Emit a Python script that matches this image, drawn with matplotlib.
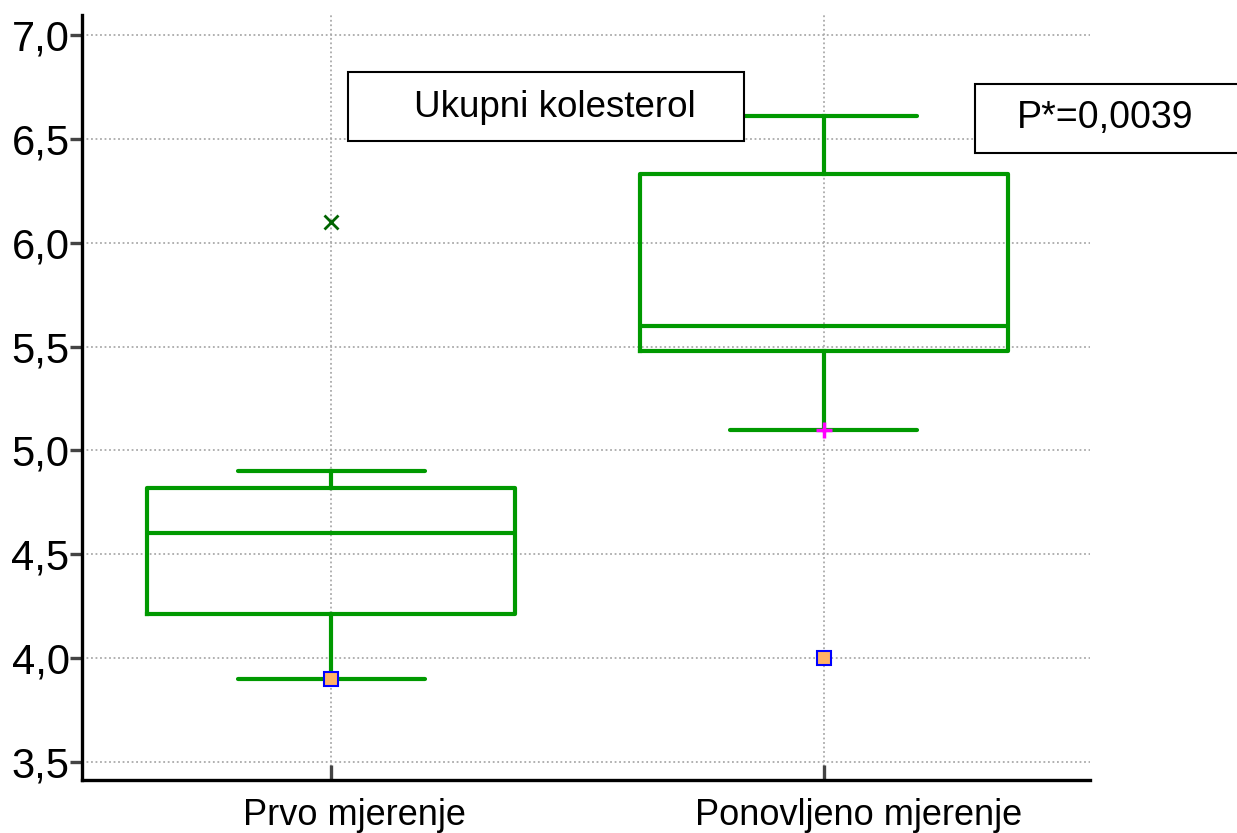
import matplotlib
matplotlib.use("Agg")
import matplotlib.pyplot as plt
from matplotlib.patches import Rectangle
from matplotlib.transforms import ScaledTranslation

plt.rcParams["font.family"] = ["Liberation Sans", "DejaVu Sans"]

categories = ["Prvo mjerenje", "Ponovljeno mjerenje"]
whisker_low = [3.9, 5.1]
q1 = [4.21, 5.48]
median = [4.6, 5.6]
q3 = [4.82, 6.33]
whisker_high = [4.9, 6.61]
outliers_x = [6.1]          # only the first group has a far outlier
min_points = [3.9, 4.0]     # square markers
plus_point = 5.1            # magenta marker, second group

GREEN = "#009900"

fig = plt.figure(figsize=(12.37, 8.33), dpi=100)
ax = fig.add_axes([0.0663, 0.0636, 0.8147, 0.9184])

stats = []
for i, name in enumerate(categories):
    stats.append({"label": name, "whislo": whisker_low[i], "q1": q1[i],
                  "med": median[i], "q3": q3[i], "whishi": whisker_high[i],
                  "fliers": []})

pos = [1, 2]
ax.bxp(stats, positions=pos, widths=0.748, showfliers=False,
       boxprops=dict(color=GREEN, linewidth=3),
       medianprops=dict(color=GREEN, linewidth=3),
       whiskerprops=dict(color=GREEN, linewidth=3),
       capprops=dict(color=GREEN, linewidth=3, solid_capstyle="round"),
       capwidths=0.38, zorder=3)

ax.plot([1] * len(outliers_x), outliers_x, "x", color="#006400",
        markersize=10, markeredgewidth=2, zorder=4)
ax.plot([2], [plus_point], "+", color="#ff00ff", markersize=12,
        markeredgewidth=2.5, zorder=4)
ax.plot(pos, min_points, "s", markerfacecolor="#ffb266",
        markeredgecolor="#0000ff", markersize=10, markeredgewidth=1.5,
        zorder=5)

ax.set_xlim(0.494, 2.54)
ax.set_ylim(3.413, 7.096)
ax.set_yticks([3.5, 4.0, 4.5, 5.0, 5.5, 6.0, 6.5, 7.0])
ax.set_yticklabels(["3,5", "4,0", "4,5", "5,0", "5,5", "6,0", "6,5", "7,0"])
ax.set_xticks(pos)
ax.set_xticklabels(categories)

ax.grid(True, color="#aaaaaa", linestyle=(0, (1, 1.5)), linewidth=1.3)
ax.set_axisbelow(True)

for s in ["top", "right"]:
    ax.spines[s].set_visible(False)
for s in ["left", "bottom"]:
    ax.spines[s].set_linewidth(2.4)
    ax.spines[s].set_color("black")

ax.tick_params(axis="y", direction="out", length=9, width=2.4,
               color="#444444", labelsize=30, pad=0)
ax.tick_params(axis="x", direction="in", length=11, width=2.4,
               color="#444444", labelsize=26, pad=13)

# category labels sit a little right of their ticks in the original
for lbl, dx in zip(ax.get_xticklabels(), [23.5, 35]):
    lbl.set_transform(lbl.get_transform() +
                      ScaledTranslation(dx / 100, 0, fig.dpi_scale_trans))

# annotation boxes
fig.patches.append(Rectangle((348 / 1237, 1 - 141 / 833), 396 / 1237, 69 / 833,
                             transform=fig.transFigure, fill=True,
                             facecolor="white", edgecolor="black",
                             linewidth=1.5, zorder=10))
fig.text(555 / 1237, 1 - 117 / 833, "Ukupni kolesterol", fontsize=26.5,
         ha="center", va="baseline", zorder=11)
fig.patches.append(Rectangle((975 / 1237, 1 - 153 / 833), 300 / 1237, 69 / 833,
                             transform=fig.transFigure, fill=True,
                             facecolor="white", edgecolor="black",
                             linewidth=1.5, zorder=10))
fig.text(1017 / 1237, 1 - 128 / 833, "P*=0,0039", fontsize=27,
         ha="left", va="baseline", zorder=11)

fig.savefig("out.png", dpi=100, facecolor="white")
